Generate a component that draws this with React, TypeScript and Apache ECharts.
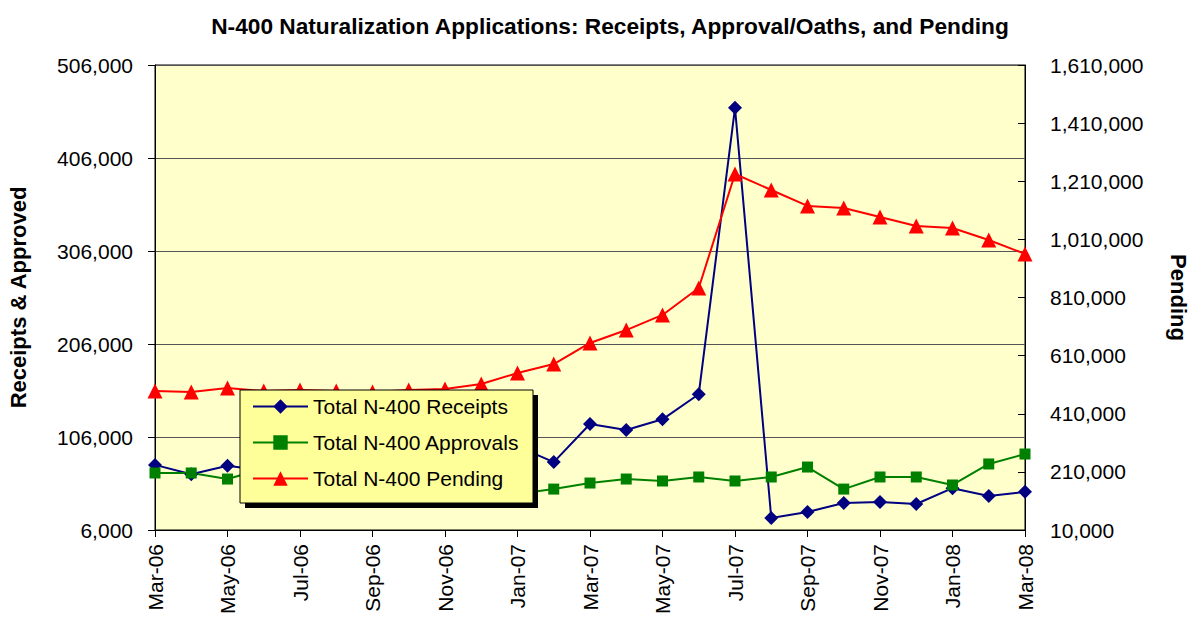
import React, { useEffect, useRef } from "react";
import * as echarts from "echarts";

const months = [
  "Mar-06", "Apr-06", "May-06", "Jun-06", "Jul-06", "Aug-06", "Sep-06", "Oct-06", "Nov-06", "Dec-06",
  "Jan-07", "Feb-07", "Mar-07", "Apr-07", "May-07", "Jun-07", "Jul-07", "Aug-07", "Sep-07", "Oct-07",
  "Nov-07", "Dec-07", "Jan-08", "Feb-08", "Mar-08",
];

const receipts = [
  76000, 66000, 75000, 70000, 72000, 74000, 71000, 78000, 82000, 86000,
  96000, 79000, 120000, 113500, 125000, 152000, 460000, 19000, 25400, 35000,
  36000, 34000, 51000, 42600, 47000,
];

const approvals = [
  67300, 67300, 60800, 72000, 65000, 62000, 60000, 56000, 52000, 48000,
  44700, 50000, 56500, 60800, 58700, 63000, 58700, 63000, 73700, 50000,
  63000, 63000, 54400, 77000, 87700,
];

const pending = [
  488000, 485000, 498600, 488000, 491700, 488000, 485000, 492000, 495000, 512400,
  550000, 581000, 653500, 698000, 750000, 842800, 1235000, 1180000, 1125000, 1118000,
  1087000, 1056000, 1049000, 1008000, 960000,
];

const seriesNames = ["Total N-400 Receipts", "Total N-400 Approvals", "Total N-400 Pending"];
const titleText = "N-400 Naturalization Applications: Receipts, Approval/Oaths, and Pending";

const FONT = "Arial, 'Liberation Sans', Helvetica, sans-serif";
const fmt = (v: number) => v.toLocaleString("en-US");

export default function App() {
  const ref = useRef<HTMLDivElement>(null);
  useEffect(() => {
    if (!ref.current) return;
    const chart = echarts.init(ref.current, null, { renderer: "svg" });
    chart.setOption({
      animation: false,
      backgroundColor: "#ffffff",
      textStyle: { fontFamily: FONT },
      title: {
        text: titleText,
        left: 605,
        textAlign: "center",
        top: 9,
        textStyle: { fontFamily: FONT, fontSize: 22.7, fontWeight: "bold", color: "#000" },
      },
      grid: {
        left: 155,
        right: 166,
        top: 65,
        bottom: 90,
        outerBoundsMode: "none",
        containLabel: false,
        show: true,
        backgroundColor: "#FFFFCC",
        borderColor: "#000",
        borderWidth: 1,
      },
      legend: {
        orient: "vertical",
        left: 252,
        top: 396,
        padding: 0,
        z: 20,
        itemWidth: 55,
        itemHeight: 18,
        itemGap: 15,
        data: seriesNames,
        textStyle: { fontFamily: FONT, fontSize: 21, color: "#000" },
      },
      graphic: [
        { type: "rect", z: 10, shape: { x: 245, y: 395, width: 293, height: 113 }, style: { fill: "#000" } },
        {
          type: "rect",
          z: 11,
          shape: { x: 240, y: 390, width: 293, height: 113 },
          style: { fill: "#FFFF99", stroke: "#000", lineWidth: 1 },
        },
      ],
      xAxis: {
        type: "category",
        data: months,
        boundaryGap: false,
        axisLine: { lineStyle: { color: "#000", width: 1 } },
        axisTick: { interval: 1, length: 7, lineStyle: { color: "#000" } },
        axisLabel: {
          interval: 1,
          rotate: 90,
          margin: 14,
          fontFamily: FONT,
          fontSize: 21,
          color: "#000",
        },
        splitLine: { show: false },
      },
      yAxis: [
        {
          type: "value",
          min: 6000,
          max: 506000,
          interval: 100000,
          name: "Receipts & Approved",
          nameLocation: "middle",
          nameGap: 126,
          nameRotate: 90,
          nameTextStyle: { fontFamily: FONT, fontSize: 22, fontWeight: "bold", color: "#000" },
          axisLine: { show: true, lineStyle: { color: "#000" } },
          axisTick: { show: true, length: 7, lineStyle: { color: "#000" } },
          axisLabel: { formatter: fmt, margin: 22, fontFamily: FONT, fontSize: 21, color: "#000" },
          splitLine: { show: true, lineStyle: { color: "#555", width: 1 } },
        },
        {
          type: "value",
          min: 10000,
          max: 1610000,
          interval: 200000,
          name: "Pending",
          nameLocation: "middle",
          nameGap: 142,
          nameRotate: -90,
          nameTextStyle: { fontFamily: FONT, fontSize: 22, fontWeight: "bold", color: "#000" },
          axisLine: { show: true, lineStyle: { color: "#000" } },
          axisTick: { show: true, inside: true, length: 7, lineStyle: { color: "#000" } },
          axisLabel: { formatter: fmt, margin: 25, fontFamily: FONT, fontSize: 21, color: "#000" },
          splitLine: { show: false },
        },
      ],
      series: [
        {
          name: seriesNames[0],
          type: "line",
          data: receipts,
          yAxisIndex: 0,
          symbol: "diamond",
          symbolSize: 14,
          itemStyle: { color: "#000080" },
          lineStyle: { color: "#000080", width: 2 },
        },
        {
          name: seriesNames[1],
          type: "line",
          data: approvals,
          yAxisIndex: 0,
          symbol: "rect",
          symbolSize: 11,
          itemStyle: { color: "#008000" },
          lineStyle: { color: "#008000", width: 2 },
        },
        {
          name: seriesNames[2],
          type: "line",
          data: pending,
          yAxisIndex: 1,
          symbol: "triangle",
          symbolSize: 15,
          itemStyle: { color: "#FF0000" },
          lineStyle: { color: "#FF0000", width: 2 },
        },
      ],
    });
    return () => chart.dispose();
  }, []);
  return (
    <div
      ref={ref}
      style={{ position: "fixed", left: 0, top: 0, width: 1191, height: 620 }}
    />
  );
}
